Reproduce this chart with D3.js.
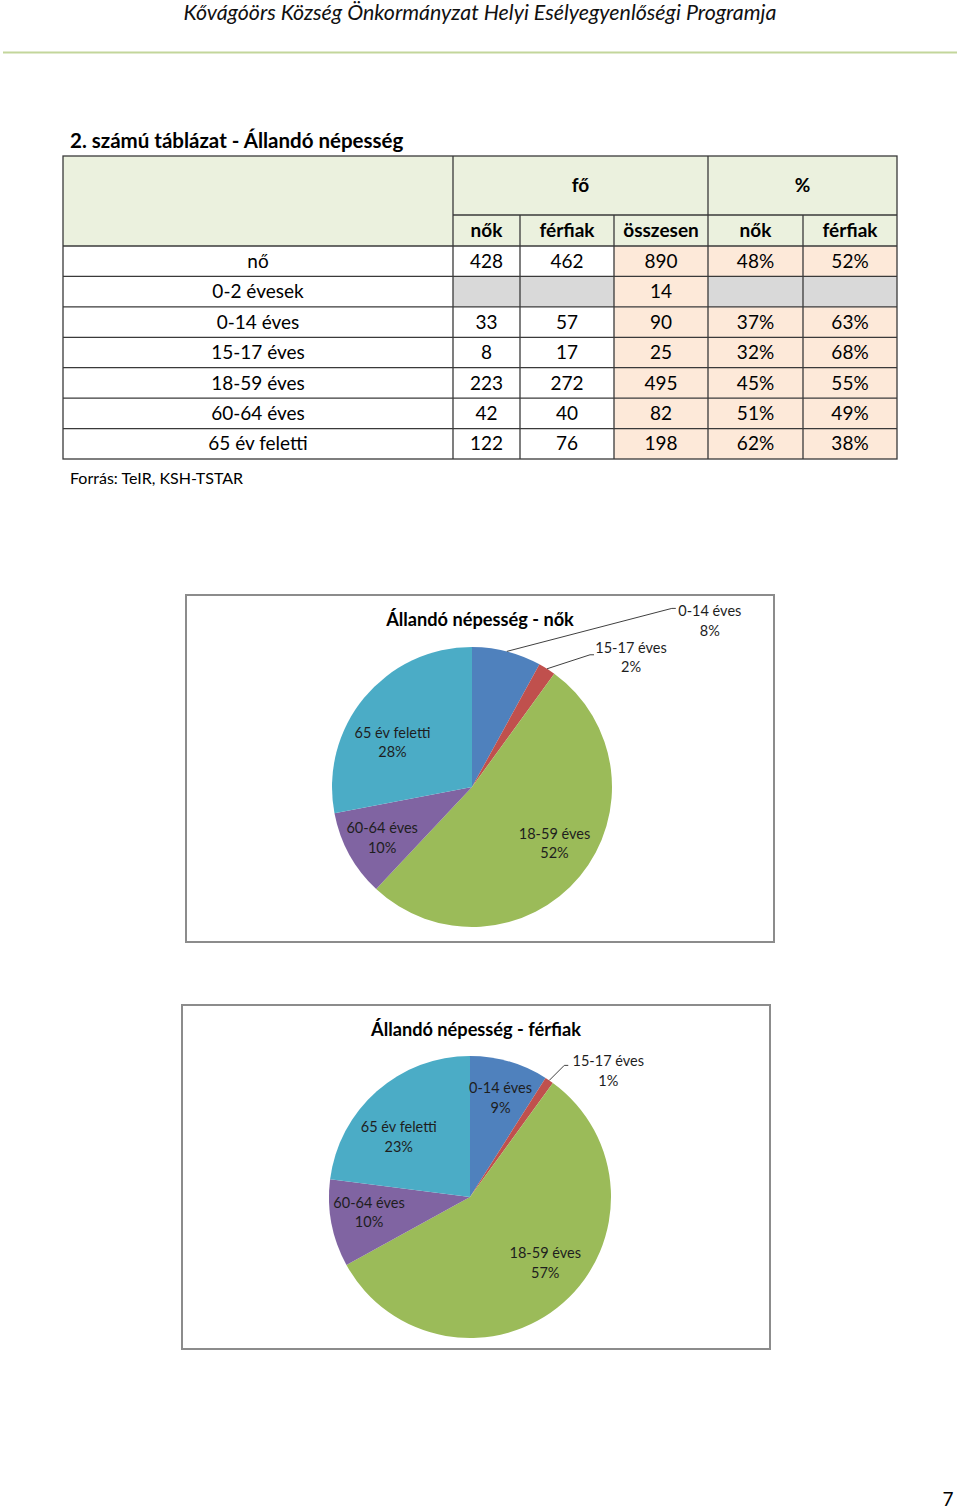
<!DOCTYPE html>
<html>
<head>
<meta charset="utf-8">
<script src="https://cdn.jsdelivr.net/npm/d3@7"></script>
<style>
  body { margin: 0; background: #fff; }
  svg { display: block; font-family: "Lato", "Open Sans", sans-serif; }
</style>
</head>
<body>
<div id="page"></div>
<script>
// 1: DATA
const headerTitle = "Kővágóörs Község Önkormányzat Helyi Esélyegyenlőségi Programja";
const tableTitle = "2. számú táblázat - Állandó népesség";
const sourceNote = "Forrás: TeIR, KSH-TSTAR";

const groupHeaders = ["fő", "%"];
const subHeaders = ["nők", "férfiak", "összesen", "nők", "férfiak"];
const rowLabels = ["nő", "0-2 évesek", "0-14 éves", "15-17 éves", "18-59 éves", "60-64 éves", "65 év feletti"];
const nokCount = [428, null, 33, 8, 223, 42, 122];
const ferfiakCount = [462, null, 57, 17, 272, 40, 76];
const osszesenCount = [890, 14, 90, 25, 495, 82, 198];
const nokPct = ["48%", null, "37%", "32%", "45%", "51%", "62%"];
const ferfiakPct = ["52%", null, "63%", "68%", "55%", "49%", "38%"];

const ageGroups = ["0-14 éves", "15-17 éves", "18-59 éves", "60-64 éves", "65 év feletti"];
const pieNok = [8, 2, 52, 10, 28];
const pieFerfiak = [9, 1, 57, 10, 23];
const pieColors = ["#4f81bd", "#c0504d", "#9bbb59", "#8064a2", "#4bacc6"];

// 2: PAGE SVG
const W = 960, H = 1510;
const svg = d3.select("#page").append("svg").attr("width", W).attr("height", H);

// page header
svg.append("text")
    .attr("x", 480).attr("y", 20)
    .attr("text-anchor", "middle")
    .attr("font-size", 21.4).attr("font-style", "italic")
    .attr("fill", "#111")
    .text(headerTitle);

svg.append("line")
    .attr("x1", 3).attr("x2", 957).attr("y1", 52.5).attr("y2", 52.5)
    .attr("stroke", "#c3d69b").attr("stroke-width", 2);

// 3: TABLE
svg.append("text")
    .attr("x", 70).attr("y", 148)
    .attr("font-size", 20.5).attr("font-weight", "bold")
    .text(tableTitle);

const colEdges = [63, 453, 520, 614, 708, 803, 897];
const tTop = 156, hMid = 215, hBottom = 246, tBottom = 459;
const headFill = "#ebf1de", peach = "#fde9d9", grey = "#d9d9d9", lineCol = "#3a3a3a";

const y = d3.scaleBand().domain(rowLabels).range([hBottom, tBottom]);
const columns = [nokCount, ferfiakCount, osszesenCount, nokPct, ferfiakPct];
const colFill = [null, null, peach, peach, peach];

const table = svg.append("g");

// header cells
table.append("rect").attr("x", colEdges[0]).attr("y", tTop)
    .attr("width", colEdges[1] - colEdges[0]).attr("height", hBottom - tTop)
    .attr("fill", headFill);
table.append("rect").attr("x", colEdges[1]).attr("y", tTop)
    .attr("width", colEdges[6] - colEdges[1]).attr("height", hBottom - tTop)
    .attr("fill", headFill);

const groupSpans = [[colEdges[1], colEdges[4]], [colEdges[4], colEdges[6]]];
table.selectAll(".grp").data(groupHeaders).join("text")
    .attr("x", (d, i) => (groupSpans[i][0] + groupSpans[i][1]) / 2)
    .attr("y", (tTop + hMid) / 2).attr("dy", "0.35em")
    .attr("text-anchor", "middle").attr("font-size", 19).attr("font-weight", "bold")
    .text(d => d);

table.selectAll(".sub").data(subHeaders).join("text")
    .attr("x", (d, i) => (colEdges[i + 1] + colEdges[i + 2]) / 2)
    .attr("y", (hMid + hBottom) / 2).attr("dy", "0.35em")
    .attr("text-anchor", "middle").attr("font-size", 19).attr("font-weight", "bold")
    .text(d => d);

// body cells
rowLabels.forEach((lab, r) => {
    const ry = y(lab), rh = y.bandwidth();
    columns.forEach((col, c) => {
        const v = col[r];
        const fill = v === null ? grey : (colFill[c] || "#fff");
        table.append("rect")
            .attr("x", colEdges[c + 1]).attr("y", ry)
            .attr("width", colEdges[c + 2] - colEdges[c + 1]).attr("height", rh)
            .attr("fill", fill);
        if (v !== null) {
            table.append("text")
                .attr("x", (colEdges[c + 1] + colEdges[c + 2]) / 2)
                .attr("y", ry + rh / 2).attr("dy", "0.35em")
                .attr("text-anchor", "middle").attr("font-size", 19)
                .text(v);
        }
    });
    table.append("text")
        .attr("x", (colEdges[0] + colEdges[1]) / 2)
        .attr("y", ry + rh / 2).attr("dy", "0.35em")
        .attr("text-anchor", "middle").attr("font-size", 19)
        .text(lab);
});

// grid lines
const grid = table.append("g").attr("stroke", lineCol).attr("stroke-width", 1.3);
grid.append("rect").attr("x", colEdges[0]).attr("y", tTop)
    .attr("width", colEdges[6] - colEdges[0]).attr("height", tBottom - tTop)
    .attr("fill", "none");
grid.append("line").attr("x1", colEdges[1]).attr("x2", colEdges[6]).attr("y1", hMid).attr("y2", hMid);
[colEdges[1], colEdges[4]].forEach(x => grid.append("line").attr("x1", x).attr("x2", x).attr("y1", tTop).attr("y2", tBottom));
[colEdges[2], colEdges[3], colEdges[5]].forEach(x => grid.append("line").attr("x1", x).attr("x2", x).attr("y1", hMid).attr("y2", tBottom));
rowLabels.forEach(lab => grid.append("line")
    .attr("x1", colEdges[0]).attr("x2", colEdges[6]).attr("y1", y(lab)).attr("y2", y(lab)));

svg.append("text")
    .attr("x", 70).attr("y", 484)
    .attr("font-size", 16)
    .text(sourceNote);

// 4: PIE CHARTS
const pies = [
    {
        title: "Állandó népesség - nők", values: pieNok,
        box: { x: 186, y: 595, w: 588, h: 347 }, titleX: 480, titleY: 626,
        cx: 472, cy: 787, r: 140,
        nudge: { "18-59 éves": [7, -6], "60-64 éves": [-4, 4], "65 év feletti": [-4, 18] },
        outside: { "0-14 éves": { label: [203, -40], end: [165, -43] },
                   "15-17 éves": { label: [84, -21], end: [43, -14] } }
    },
    {
        title: "Állandó népesség - férfiak", values: pieFerfiak,
        box: { x: 182, y: 1005, w: 588, h: 344 }, titleX: 476, titleY: 1036,
        cx: 470, cy: 1197, r: 141,
        nudge: { "0-14 éves": [3, -4], "18-59 éves": [10, -8], "60-64 éves": [-4, -3], "65 év feletti": [-6, 14] },
        outside: { "15-17 éves": { label: [59, -19], end: [15, -15] } }
    }
];

const pie = d3.pie().sort(null).value(d => d.value);

pies.forEach(p => {
    const g = svg.append("g");
    g.append("rect")
        .attr("x", p.box.x).attr("y", p.box.y).attr("width", p.box.w).attr("height", p.box.h)
        .attr("fill", "#fff").attr("stroke", "#8c8c8c").attr("stroke-width", 2);

    g.append("text")
        .attr("x", p.titleX).attr("y", p.titleY)
        .attr("text-anchor", "middle").attr("font-size", 18.2).attr("font-weight", "bold")
        .text(p.title);

    const data = ageGroups.map((name, i) => ({ name, value: p.values[i], color: pieColors[i] }));
    const arcs = pie(data);
    const arc = d3.arc().innerRadius(0).outerRadius(p.r);
    const labelArc = d3.arc().innerRadius(p.r * 0.7).outerRadius(p.r * 0.7);
    const edgeArc = d3.arc().innerRadius(p.r).outerRadius(p.r);

    const pg = g.append("g").attr("transform", `translate(${p.cx},${p.cy})`);
    pg.selectAll("path").data(arcs).join("path")
        .attr("d", arc)
        .attr("fill", d => d.data.color);

    arcs.forEach(a => {
        const name = a.data.name;
        let lx, ly;
        if (p.outside[name]) {
            const [ex, ey] = edgeArc.centroid(a);
            const o = p.outside[name];
            lx = ex + o.label[0]; ly = ey + o.label[1];
            pg.append("polyline")
                .attr("points", [[ex, ey], [ex + o.end[0], ey + o.end[1]], [ex + o.end[0] + 4, ey + o.end[1]]].join(" "))
                .attr("fill", "none").attr("stroke", "#404040").attr("stroke-width", 1);
        } else {
            const [mx, my] = labelArc.centroid(a);
            const n = p.nudge[name] || [0, 0];
            lx = mx + n[0]; ly = my + n[1] - 10;
        }
        const t = pg.append("text")
            .attr("text-anchor", "middle").attr("font-size", 14.5).attr("fill", "#1e1e1e");
        t.append("tspan").attr("x", lx).attr("y", ly).attr("dy", "0.35em").text(name);
        t.append("tspan").attr("x", lx).attr("y", ly + 19.5).attr("dy", "0.35em").text(a.data.value + "%");
    });
});

// page number
svg.append("text")
    .attr("x", 948).attr("y", 1506)
    .attr("text-anchor", "middle").attr("font-size", 19)
    .text("7");
</script>
</body>
</html>
